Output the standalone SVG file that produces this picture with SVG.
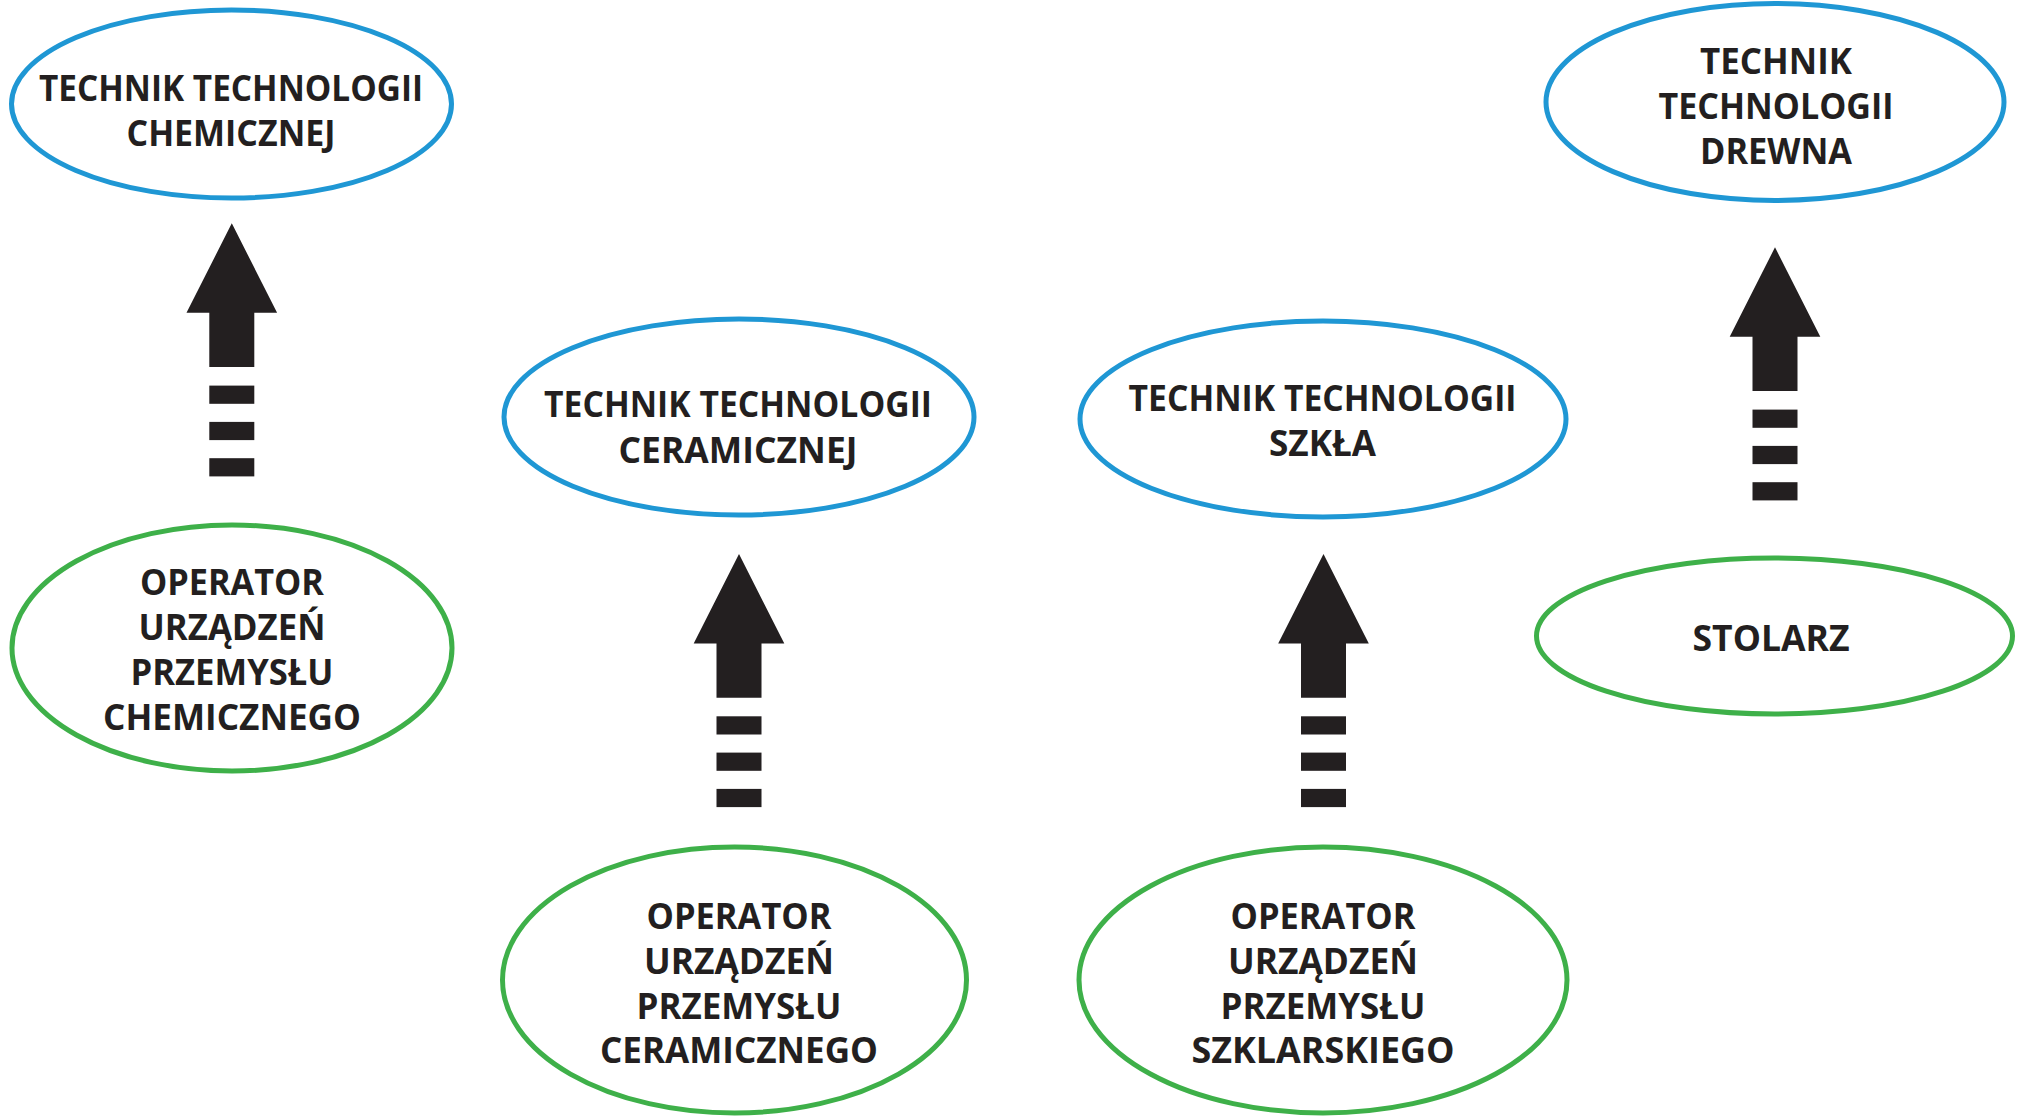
<svg xmlns="http://www.w3.org/2000/svg" xmlns:xlink="http://www.w3.org/1999/xlink" width="2022" height="1117" viewBox="0 0 2022 1117">
<style>
.tech{fill:#fff;stroke:#1f97d4;stroke-width:5}
.oper{fill:#fff;stroke:#3eb049;stroke-width:5}
.lbl{font-family:"Open Sans","Liberation Sans",sans-serif;font-weight:700;font-size:35px;fill:#231f20;text-anchor:middle}
.arr{fill:#231f20}
</style>
<defs>
<g id="arrow" class="arr">
<path d="M0,0 L45.3,89.5 L22.5,89.5 L22.5,143.7 L-22.5,143.7 L-22.5,89.5 L-45.3,89.5 Z"/>
<rect x="-22.5" y="162.3" width="45" height="18.2"/>
<rect x="-22.5" y="198.6" width="45" height="18.2"/>
<rect x="-22.5" y="234.9" width="45" height="18.2"/>
</g>
</defs>
<rect width="2022" height="1117" fill="#fff"/>
<g id="connectors">
<use xlink:href="#arrow" href="#arrow" x="231.8" y="223.3"/>
<use xlink:href="#arrow" href="#arrow" x="739" y="554"/>
<use xlink:href="#arrow" href="#arrow" x="1323.5" y="554"/>
<use xlink:href="#arrow" href="#arrow" x="1775" y="247.3"/>
</g>
<g id="tt-chemicznej">
<ellipse class="tech" cx="231.5" cy="104" rx="220" ry="94"/>
<text class="lbl" x="231" y="101" textLength="384" lengthAdjust="spacingAndGlyphs">TECHNIK TECHNOLOGII</text>
<text class="lbl" x="231" y="146" textLength="209" lengthAdjust="spacingAndGlyphs">CHEMICZNEJ</text>
</g>
<g id="op-chemicznego">
<ellipse class="oper" cx="232" cy="648" rx="220" ry="123"/>
<text class="lbl" x="232" y="595" textLength="184" lengthAdjust="spacingAndGlyphs">OPERATOR</text>
<text class="lbl" x="232" y="640" textLength="187" lengthAdjust="spacingAndGlyphs">URZĄDZEŃ</text>
<text class="lbl" x="232" y="685" textLength="203" lengthAdjust="spacingAndGlyphs">PRZEMYSŁU</text>
<text class="lbl" x="232" y="730" textLength="258" lengthAdjust="spacingAndGlyphs">CHEMICZNEGO</text>
</g>
<g id="tt-ceramicznej">
<ellipse class="tech" cx="739" cy="417" rx="235" ry="98"/>
<text class="lbl" x="738" y="417" textLength="388" lengthAdjust="spacingAndGlyphs">TECHNIK TECHNOLOGII</text>
<text class="lbl" x="738" y="462.5" textLength="239" lengthAdjust="spacingAndGlyphs">CERAMICZNEJ</text>
</g>
<g id="op-ceramicznego">
<ellipse class="oper" cx="734.5" cy="980" rx="232" ry="133"/>
<text class="lbl" x="739" y="929" textLength="185" lengthAdjust="spacingAndGlyphs">OPERATOR</text>
<text class="lbl" x="739" y="973.5" textLength="190" lengthAdjust="spacingAndGlyphs">URZĄDZEŃ</text>
<text class="lbl" x="739" y="1018.5" textLength="205" lengthAdjust="spacingAndGlyphs">PRZEMYSŁU</text>
<text class="lbl" x="739" y="1063" textLength="278" lengthAdjust="spacingAndGlyphs">CERAMICZNEGO</text>
</g>
<g id="tt-szkla">
<ellipse class="tech" cx="1323" cy="419" rx="243" ry="98"/>
<text class="lbl" x="1322.5" y="410.7" textLength="388" lengthAdjust="spacingAndGlyphs">TECHNIK TECHNOLOGII</text>
<text class="lbl" x="1322.5" y="455.7" textLength="107" lengthAdjust="spacingAndGlyphs">SZKŁA</text>
</g>
<g id="op-szklarskiego">
<ellipse class="oper" cx="1323" cy="980" rx="244" ry="133"/>
<text class="lbl" x="1323" y="929" textLength="185" lengthAdjust="spacingAndGlyphs">OPERATOR</text>
<text class="lbl" x="1323" y="973.5" textLength="190" lengthAdjust="spacingAndGlyphs">URZĄDZEŃ</text>
<text class="lbl" x="1323" y="1018.5" textLength="205" lengthAdjust="spacingAndGlyphs">PRZEMYSŁU</text>
<text class="lbl" x="1323" y="1063" textLength="263" lengthAdjust="spacingAndGlyphs">SZKLARSKIEGO</text>
</g>
<g id="tt-drewna">
<ellipse class="tech" cx="1775" cy="102" rx="229" ry="98.5"/>
<text class="lbl" x="1776" y="74" textLength="152" lengthAdjust="spacingAndGlyphs">TECHNIK</text>
<text class="lbl" x="1776" y="119" textLength="235" lengthAdjust="spacingAndGlyphs">TECHNOLOGII</text>
<text class="lbl" x="1776" y="164" textLength="152" lengthAdjust="spacingAndGlyphs">DREWNA</text>
</g>
<g id="stolarz">
<ellipse class="oper" cx="1774.5" cy="636" rx="238" ry="78"/>
<text class="lbl" x="1771" y="650.7" textLength="157" lengthAdjust="spacingAndGlyphs">STOLARZ</text>
</g>
</svg>
